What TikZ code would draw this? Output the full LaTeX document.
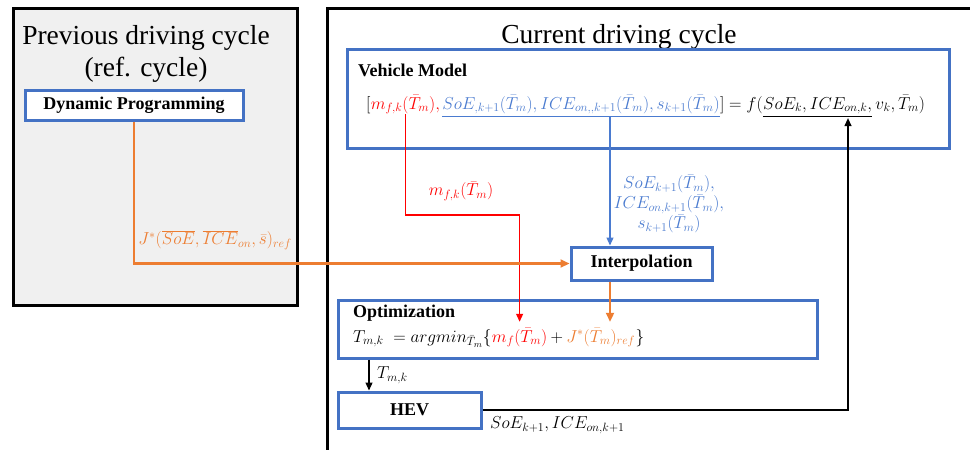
\documentclass[tikz,border=0pt]{standalone}
\usepackage{fontspec}
\setmainfont{Liberation Serif}
\usetikzlibrary{arrows.meta,calc}
\definecolor{boxblue}{HTML}{4472C4}
\definecolor{txtblue}{HTML}{4A7BD0}
\definecolor{orng}{HTML}{ED7D31}
\definecolor{panelgray}{HTML}{F0F0F0}
\begin{document}
\begin{tikzpicture}[x=1pt,y=-1pt,
  panel/.style={draw=black, line width=3pt, fill=panelgray},
  bluebox/.style={draw=boxblue, line width=3pt, fill=white, inner sep=0pt,
    font=\bfseries\fontsize{18}{21}\selectfont},
  title/.style={font=\fontsize{27.5}{32}\selectfont, align=center},
  boxlabel/.style={font=\bfseries\fontsize{18}{21}\selectfont, anchor=west, inner sep=0pt},
  eqpart/.style={inner sep=0pt, anchor=base west, font=\fontsize{17.5}{21}\selectfont},
  mlabel/.style={inner sep=0pt, font=\fontsize{17}{20}\selectfont, align=center},
  link/.style={line width=1.2pt, -{Triangle[length=8pt,width=7pt]}},
  olink/.style={draw=orng, line width=2.2pt, -{Triangle[length=9pt,width=8pt]}}
]
\useasboundingbox (0,0) rectangle (970,450);
\clip (0,0) rectangle (970,450);

% panels
\draw[panel] (13,8) rectangle (297,305);
\draw[panel, fill=white] (327,8) rectangle (990,480);
\node[title] (prevtitle) at (146,54) {Previous driving cycle\\(ref. cycle)};
\node[title] (curtitle) at (619,37) {Current driving cycle};

% boxes
\node[bluebox, minimum width=218pt, minimum height=30pt] (dp) at (134,105) {Dynamic Programming};
\node[bluebox, minimum width=602pt, minimum height=99pt, anchor=north west] (vm) at (346,48) {};
\node[boxlabel] (vmlabel) at (358,70) {Vehicle Model};
\node[bluebox, minimum width=141pt, minimum height=33pt] (interp) at (641.5,263.5) {Interpolation};
\node[bluebox, minimum width=479pt, minimum height=58pt] (opt) at (577.5,329) {};
\node[boxlabel] (optlabel) at (353,313) {Optimization};
\node[bluebox, minimum width=143pt, minimum height=36pt] (hev) at (409.5,410) {HEV};

% vehicle model equation
\node[eqpart] (lb) at (366,109) {$\Big[$};
\node[eqpart, text=red] (mf) at (lb.base east) {$m_{f,k}(\bar T_m),$};
\node[eqpart, text=txtblue] (st) at ([xshift=2pt]mf.base east)
  {$SoE_{,k+1}(\bar T_m),ICE_{on,,k+1}(\bar T_m),s_{k+1}(\bar T_m)$};
\node[eqpart] (rb) at (st.base east) {$\Big]=f($};
\node[eqpart] (cur) at (rb.base east) {$SoE_k,ICE_{on,k},$};
\node[eqpart] (tail) at (cur.base east) {$\,v_k,\bar T_m)$};
\draw[txtblue, line width=1pt] ([yshift=-2pt]st.south west) -- ([yshift=-2pt]st.south -| rb.west);
\draw[line width=1pt] ([yshift=-2pt]cur.south west) -- ([yshift=-2pt]cur.south east);

% optimization equation
\node[eqpart] (oa) at (353,342) {$T_{m,k}\;=argmin_{\bar T_m}\Big\{$};
\node[eqpart, text=red] (omf) at (oa.base east) {$m_f(\bar T_m)$};
\node[eqpart] (oplus) at (omf.base east) {$\,+\,$};
\node[eqpart, text=orng] (oj) at (oplus.base east) {$J^*(\bar T_m)_{ref}$};
\node[eqpart] (oc) at (oj.base east) {$\Big\}$};

% connectors
\coordinate (redturn) at (0,215);
\coordinate (bx) at (610,0);
\coordinate (tx) at (369,0);
\coordinate (hx) at (848,0);
\draw[link, red] (mf.south) -- (mf.south |- redturn) -| ([yshift=6pt]omf.north);
\draw[link, txtblue] ([yshift=-2pt]st.south -| bx) -- (interp.north -| bx);
\draw[olink] (interp.south -| bx) -- ([yshift=6pt]oj.north -| bx);
\draw[olink] (dp.south) |- (interp.west);
\draw[link] (hev.east) -| ([yshift=-4pt]cur.south -| hx);
\draw[link] (opt.south -| tx) -- (hev.north -| tx);

% connector labels
\node[mlabel, text=red] (mflab) at (461,191) {$m_{f,k}(\bar T_m)$};
\node[mlabel, text=txtblue] (stlab) at (669,204) {$SoE_{k+1}(\bar T_m),$\\$ICE_{on,k+1}(\bar T_m),$\\$s_{k+1}(\bar T_m)$};
\node[mlabel, text=orng] (jlab) at (215,240) {$J^*(\overline{SoE},\overline{ICE}_{on},\bar s)_{ref}$};
\node[mlabel, anchor=west] (tlab) at (377,375) {$T_{m,k}$};
\node[mlabel, anchor=west] (hevlab) at (490,425) {$SoE_{k+1},ICE_{on,k+1}$};
\end{tikzpicture}
\end{document}
